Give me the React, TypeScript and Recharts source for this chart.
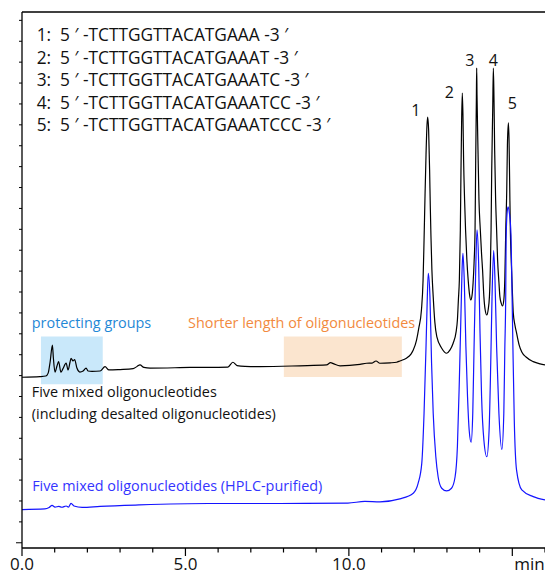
import React from "react";
import {
  LineChart,
  Line,
  XAxis,
  YAxis,
  ReferenceArea,
  ReferenceDot,
  ReferenceLine,
} from "recharts";

const FONT = '"Open Sans", "Noto Sans", sans-serif';

// time (min), detector signal (a.u., one unit per y tick)
const crudeTrace: [number, number][] = [
  [0, 7.92], [0.55, 7.95], [0.73, 7.98], [0.8, 8.12], [0.86, 8.65], [0.93, 9.46],
  [0.96, 8.84], [1.01, 8.17], [1.07, 8.46], [1.12, 8.67], [1.19, 8.17], [1.25, 8.32],
  [1.35, 8.6], [1.41, 8.27], [1.47, 8.65], [1.5, 8.83], [1.56, 8.7], [1.61, 8.77],
  [1.68, 8.36], [1.77, 8.17], [1.87, 8.22], [1.96, 8.36], [2.02, 8.22], [2.14, 8.2],
  [2.39, 8.22], [2.54, 8.43], [2.66, 8.27], [3.0, 8.29], [3.4, 8.33], [3.52, 8.44],
  [3.61, 8.51], [3.73, 8.39], [3.92, 8.36], [5.14, 8.39], [6.3, 8.41], [6.45, 8.64],
  [6.58, 8.48], [6.82, 8.44], [7.28, 8.43], [8.5, 8.47], [9.32, 8.51], [9.44, 8.62],
  [9.54, 8.56], [9.73, 8.47], [10.34, 8.54], [10.54, 8.59], [10.71, 8.6], [10.83, 8.7],
  [10.95, 8.59], [11.26, 8.61], [11.46, 8.64], [11.56, 8.7], [11.76, 8.83], [11.9, 9.03],
  [11.97, 9.22], [12.07, 9.7], [12.14, 10.28], [12.22, 11.14], [12.27, 12.57], [12.3, 14.49],
  [12.33, 16.64], [12.36, 18.56], [12.39, 19.99], [12.41, 20.37], [12.44, 19.75], [12.47, 17.84],
  [12.49, 16.16], [12.51, 14.73], [12.54, 13.05], [12.58, 11.78], [12.63, 10.56], [12.69, 9.86],
  [12.84, 9.31], [12.99, 9.07], [13.09, 9.22], [13.19, 9.55], [13.28, 10.09], [13.32, 10.66],
  [13.35, 11.62], [13.38, 12.57], [13.41, 14.97], [13.43, 17.84], [13.45, 20.23], [13.47, 21.52],
  [13.49, 20.47], [13.51, 18.31], [13.54, 16.4], [13.57, 14.97], [13.61, 13.53], [13.65, 12.57],
  [13.69, 11.9], [13.73, 11.62], [13.77, 11.86], [13.8, 12.43], [13.83, 13.39], [13.86, 14.97],
  [13.88, 18.31], [13.9, 21.18], [13.91, 22.72], [13.92, 21.43], [13.95, 18.79], [13.98, 16.4],
  [14.02, 15.0], [14.06, 13.8], [14.09, 13.05], [14.13, 11.78], [14.17, 11.14], [14.22, 10.9],
  [14.26, 11.14], [14.3, 11.78], [14.33, 13.29], [14.35, 14.97], [14.37, 17.84], [14.4, 20.71],
  [14.42, 22.72], [14.44, 21.19], [14.46, 18.79], [14.49, 16.4], [14.52, 14.97], [14.55, 13.53],
  [14.59, 12.48], [14.62, 11.78], [14.66, 11.47], [14.7, 11.33], [14.74, 11.62], [14.77, 12.57],
  [14.8, 14.97], [14.83, 16.88], [14.85, 19.03], [14.88, 20.09], [14.9, 19.27], [14.92, 17.12],
  [14.94, 14.97], [14.97, 13.39], [15.0, 12.1], [15.03, 10.99], [15.08, 10.42], [15.13, 10.04],
  [15.21, 9.46], [15.29, 9.13], [15.42, 8.89], [15.64, 8.67], [15.85, 8.56], [16.0, 8.51],
];

const purifiedTrace: [number, number][] = [
  [0, 1.59], [0.7, 1.62], [0.83, 1.69], [0.92, 1.79], [1.01, 1.71], [1.13, 1.74],
  [1.22, 1.7], [1.35, 1.76], [1.42, 1.71], [1.5, 1.89], [1.59, 1.76], [1.84, 1.69],
  [2.39, 1.74], [3.58, 1.81], [5.69, 1.88], [7.89, 1.88], [9.97, 1.9], [10.49, 1.98],
  [10.95, 1.96], [11.56, 2.1], [11.97, 2.37], [12.12, 2.85], [12.23, 3.8], [12.3, 6.2],
  [12.36, 9.38], [12.4, 11.78], [12.43, 12.89], [12.48, 11.78], [12.53, 8.59], [12.58, 6.2],
  [12.66, 4.12], [12.73, 3.16], [12.84, 2.61], [12.99, 2.48], [13.14, 2.61], [13.25, 3.16],
  [13.32, 4.6], [13.38, 7.79], [13.43, 10.98], [13.47, 13.37], [13.49, 13.85], [13.53, 12.57],
  [13.58, 9.38], [13.63, 6.99], [13.68, 5.4], [13.74, 4.81], [13.79, 6.2], [13.83, 9.38],
  [13.88, 13.05], [13.92, 14.97], [13.97, 13.37], [14.01, 10.18], [14.06, 6.99], [14.13, 4.92],
  [14.22, 4.12], [14.29, 5.4], [14.34, 8.59], [14.38, 11.78], [14.43, 13.98], [14.47, 12.57],
  [14.52, 9.38], [14.59, 6.2], [14.68, 4.47], [14.74, 6.2], [14.77, 9.22], [14.8, 12.1],
  [14.81, 14.49], [14.84, 15.78], [14.87, 16.08], [14.91, 15.78], [14.96, 14.73], [14.99, 12.1],
  [15.02, 9.22], [15.06, 5.88], [15.13, 3.48], [15.29, 2.53], [15.64, 2.21], [16.0, 2.05],
];

const sequences = [
  "TCTTGGTTACATGAAA",
  "TCTTGGTTACATGAAAT",
  "TCTTGGTTACATGAAATC",
  "TCTTGGTTACATGAAATCC",
  "TCTTGGTTACATGAAATCCC",
];

const peakNames = ["1", "2", "3", "4", "5"];

const xTicks = [0, 1, 2, 3, 4, 5, 6, 7, 8, 9, 10, 11, 12, 13, 14, 15, 16];
const xMajor = [0, 5, 10, 15];
const xMajorLabels = ["0.0", "5.0", "10.0", "min"];
const yTicks = [0, 1, 2, 3, 4, 5, 6, 7, 8, 9, 10, 11, 12, 13, 14, 15, 16, 17, 18, 19, 20, 21, 22, 23, 24, 25];

const crudeData = crudeTrace.map(([t, v]) => ({ t, v }));
const purifiedData = purifiedTrace.map(([t, v]) => ({ t, v }));

// where the peak numbers sit (time, level of the text baseline)
const peakLabelPos: [number, number][] = [
  [12.05, 20.42],
  [13.07, 21.27],
  [13.7, 22.81],
  [14.42, 22.81],
  [15.0, 20.74],
];

const XTick = (props: any) => {
  const { x, y, payload } = props;
  const i = xMajor.indexOf(payload.value);
  const major = i >= 0;
  const isUnit = payload.value === 15;
  return (
    <g>
      <line x1={x} x2={x} y1={y} y2={y + (major ? 8 : 4.5)} stroke="#000" strokeWidth={1.2} />
      {major && (
        <text
          x={isUnit ? x + 2 : x}
          y={y + 22.3}
          textAnchor={isUnit ? "start" : "middle"}
          fontSize={17}
          fontFamily={FONT}
          fill="#111"
        >
          {xMajorLabels[i]}
        </text>
      )}
    </g>
  );
};

const YTick = (props: any) => {
  const { x, y, payload } = props;
  return (
    <line
      x1={x - (payload.value === 0 ? 6 : 3)}
      x2={x}
      y1={y}
      y2={y}
      stroke="#000"
      strokeWidth={1}
    />
  );
};

// text placed at a data position through a zero-size ReferenceDot
function note(
  key: string,
  t: number,
  v: number,
  lines: string[],
  color: string,
  size: number,
  anchor: "start" | "middle" = "start",
  lineGap = 22
) {
  return (
    <ReferenceDot
      key={key}
      x={t}
      y={v}
      r={0}
      fill="none"
      stroke="none"
      ifOverflow="visible"
      label={{
        content: (p: any) => {
          const vb = p.viewBox || {};
          const cx = (vb.x ?? 0) + (vb.width ?? 0) / 2;
          const cy = (vb.y ?? 0) + (vb.height ?? 0) / 2;
          return (
            <text
              x={cx}
              y={cy}
              textAnchor={anchor}
              fontSize={size}
              fontFamily={FONT}
              fill={color}
              style={{ whiteSpace: "pre" }}
            >
              {lines.map((s, j) => (
                <tspan key={j} x={cx} dy={j === 0 ? 0 : lineGap}>
                  {s}
                </tspan>
              ))}
            </text>
          );
        },
      }}
    />
  );
}

export default function App() {
  return (
    <div style={{ position: "absolute", left: 0, top: 0, width: 545, height: 575, background: "#fff" }}>
      <LineChart width={545} height={575} margin={{ top: 12, right: 0, bottom: 0, left: 0 }}>
        <XAxis
          dataKey="t"
          type="number"
          domain={[0, 16]}
          ticks={xTicks}
          interval={0}
          height={27}
          tickSize={0}
          tickMargin={0}
          tickLine={false}
          tick={<XTick />}
          axisLine={{ stroke: "#000", strokeWidth: 1.3 }}
          allowDataOverflow
        />
        <YAxis
          type="number"
          domain={[-0.25, 25.4]}
          ticks={yTicks}
          interval={0}
          width={22}
          tickSize={0}
          tickMargin={0}
          tickLine={false}
          tick={<YTick />}
          axisLine={{ stroke: "#000", strokeWidth: 1.3 }}
          allowDataOverflow
        />
        <ReferenceLine y={25.4} stroke="#000" strokeWidth={1.3} ifOverflow="visible" />
        <ReferenceArea x1={0.58} x2={2.47} y1={7.59} y2={9.87} fill="#c9e8fa" fillOpacity={1} stroke="none" />
        <ReferenceArea x1={8.01} x2={11.62} y1={7.93} y2={9.87} fill="#fbe5cf" fillOpacity={1} stroke="none" />
        <Line
          data={crudeData}
          dataKey="v"
          type="monotone"
          stroke="#000"
          strokeWidth={1.2}
          dot={false}
          activeDot={false}
          isAnimationActive={false}
        />
        <Line
          data={purifiedData}
          dataKey="v"
          type="monotone"
          stroke="#1414ff"
          strokeWidth={1.2}
          dot={false}
          activeDot={false}
          isAnimationActive={false}
        />
        {note(
          "seq",
          0.45,
          24.01,
          sequences.map((s, i) => `${i + 1}:  5 \u2032 -${s} -3 \u2032`),
          "#111",
          17.3,
          "start",
          22.5
        )}
        {peakNames.map((n, i) =>
          note(`pk${i}`, peakLabelPos[i][0], peakLabelPos[i][1], [n], "#111", 16, "middle")
        )}
        {note("prot", 0.3, 10.28, ["protecting groups"], "#1f88d6", 14.4)}
        {note("short", 5.08, 10.28, ["Shorter length of oligonucleotides"], "#f28a3e", 14.4)}
        {note(
          "crude",
          0.3,
          6.98,
          ["Five mixed oligonucleotides", "(including desalted oligonucleotides)"],
          "#111",
          14.4
        )}
        {note("pure", 0.31, 2.48, ["Five mixed oligonucleotides (HPLC-purified)"], "#3434ff", 14.4)}
      </LineChart>
    </div>
  );
}
